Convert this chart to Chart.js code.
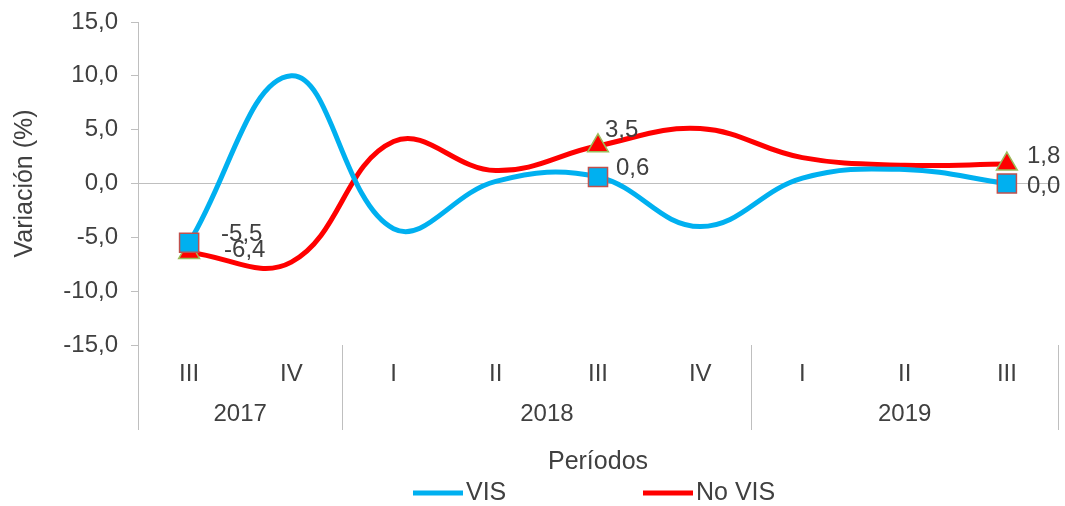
<!DOCTYPE html>
<html>
<head>
<meta charset="utf-8">
<script src="https://cdn.jsdelivr.net/npm/chart.js@4.4.0/dist/chart.umd.min.js"></script>
<style>
  html, body { margin: 0; padding: 0; background: #fff; overflow: hidden; }
  #wrap { width: 1065px; height: 506px; }
  canvas { display: block; }
</style>
</head>
<body>
<div id="wrap"><canvas id="myChart"></canvas></div>
<script>
// data
var quarters = ['III', 'IV', 'I', 'II', 'III', 'IV', 'I', 'II', 'III'];
var years = ['2017', '2018', '2019'];
var yearSpans = [2, 4, 3];
var visValues = [-5.5, 10.0, -4.2, 0.2, 0.6, -4.0, 0.5, 1.3, 0.0];
var noVisValues = [-6.4, -7.3, 3.9, 1.2, 3.5, 5.1, 2.4, 1.7, 1.8];
var labelledPoints = [0, 4, 8];

var textColor = '#404040';
var axisColor = '#bfbfbf';
var fontFamily = '"Liberation Sans", Arial, sans-serif';

function markerSizes(r) {
  return quarters.map(function (q, i) {
    return labelledPoints.indexOf(i) >= 0 ? r : 0;
  });
}

function fmt(v) {
  return v.toFixed(1).replace('.', ',');
}

// label offsets per dataset, per labelled point (dx, dy from the marker)
var labelOffsets = [
  [[32, -8], [18, -9], [20, 3]],
  [[35, -2], [7, -15], [20, -8]]
];

var extrasPlugin = {
  id: 'extras',
  afterDatasetsDraw: function (chart) {
    var ctx = chart.ctx;
    ctx.save();
    ctx.font = '24px ' + fontFamily;
    ctx.fillStyle = textColor;
    ctx.textAlign = 'left';
    ctx.textBaseline = 'middle';
    chart.data.datasets.forEach(function (ds, d) {
      var meta = chart.getDatasetMeta(d);
      labelledPoints.forEach(function (idx, k) {
        var pt = meta.data[idx];
        var off = labelOffsets[d][k];
        ctx.fillText(fmt(ds.data[idx]), pt.x + off[0], pt.y + off[1]);
      });
    });
    ctx.restore();
  },
  afterDraw: function (chart) {
    var ctx = chart.ctx;
    var xs = chart.scales.x;
    var step = xs.width / quarters.length;
    var top = xs.top;
    var bottom = top + 85;
    ctx.save();
    ctx.strokeStyle = axisColor;
    ctx.lineWidth = 1;
    ctx.font = '24px ' + fontFamily;
    ctx.fillStyle = textColor;
    ctx.textAlign = 'center';
    ctx.textBaseline = 'middle';
    var start = 0;
    var edges = [xs.left];
    years.forEach(function (y, i) {
      var end = start + yearSpans[i];
      var x0 = xs.getPixelForValue(start) - step / 2;
      var x1 = xs.getPixelForValue(end - 1) + step / 2;
      edges.push(x1);
      ctx.fillText(y, (x0 + x1) / 2, top + 69);
      start = end;
    });
    edges.forEach(function (x) {
      var px = Math.round(x) + 0.5;
      ctx.beginPath();
      ctx.moveTo(px, top);
      ctx.lineTo(px, bottom);
      ctx.stroke();
    });

    // legend
    ctx.font = '25px ' + fontFamily;
    var ly = 493;
    var items = [[413, 0], [643, 1]];
    items.forEach(function (it) {
      var ds = chart.data.datasets[it[1]];
      ctx.fillStyle = ds.borderColor;
      ctx.fillRect(it[0], ly - 2.5, 50, 5);
      ctx.fillStyle = textColor;
      ctx.textAlign = 'left';
      ctx.fillText(ds.label, it[0] + 53, ly);
    });
    ctx.restore();
  }
};

var chart = new Chart(document.getElementById('myChart'), {
  type: 'line',
  data: {
    labels: quarters,
    datasets: [
      {
        label: 'VIS',
        data: visValues,
        borderColor: '#00b0f0',
        backgroundColor: '#00b0f0',
        borderWidth: 5,
        tension: 0.4,
        pointStyle: 'rect',
        pointRadius: markerSizes(13.5),
        pointHoverRadius: markerSizes(13.5),
        pointBackgroundColor: '#00b0f0',
        pointBorderColor: '#c0504d',
        pointBorderWidth: 1.5
      },
      {
        label: 'No VIS',
        data: noVisValues,
        borderColor: '#ff0000',
        backgroundColor: '#ff0000',
        borderWidth: 5,
        tension: 0.4,
        pointStyle: 'triangle',
        pointRadius: markerSizes(12),
        pointHoverRadius: markerSizes(12),
        pointBackgroundColor: '#ff0000',
        pointBorderColor: '#9bbb59',
        pointBorderWidth: 1.5
      }
    ]
  },
  options: {
    responsive: true,
    maintainAspectRatio: false,
    animation: false,
    layout: { autoPadding: false, padding: { top: 22, right: 7, bottom: 28, left: 0 } },
    plugins: {
      legend: { display: false },
      tooltip: { enabled: false }
    },
    scales: {
      x: {
        offset: true,
        grid: { display: false, drawTicks: false },
        border: { display: false },
        ticks: {
          color: textColor,
          font: { family: fontFamily, size: 24 },
          padding: 15,
          maxRotation: 0
        },
        title: {
          display: true,
          text: 'Períodos',
          color: textColor,
          font: { family: fontFamily, size: 25 },
          padding: { top: 4, bottom: 1 }
        },
        afterFit: function (scale) {
          scale.height = 133;
          scale.paddingLeft = 0;
          scale.paddingRight = 0;
        }
      },
      y: {
        min: -15,
        max: 15,
        ticks: {
          stepSize: 5,
          color: textColor,
          font: { family: fontFamily, size: 24 },
          padding: 13,
          callback: function (v) { return fmt(v); }
        },
        grid: {
          color: function (c) { return c.tick && c.tick.value === 0 ? axisColor : 'rgba(0,0,0,0)'; },
          tickColor: axisColor,
          tickLength: 7,
          lineWidth: 1
        },
        border: { display: true, color: axisColor },
        title: {
          display: true,
          text: 'Variación (%)',
          color: textColor,
          font: { family: fontFamily, size: 25 },
          padding: { top: 10, bottom: 4 }
        },
        afterFit: function (scale) {
          scale.width = 138;
          scale.paddingTop = 0;
          scale.paddingBottom = 0;
        }
      }
    }
  },
  plugins: [extrasPlugin]
});
</script>
</body>
</html>
